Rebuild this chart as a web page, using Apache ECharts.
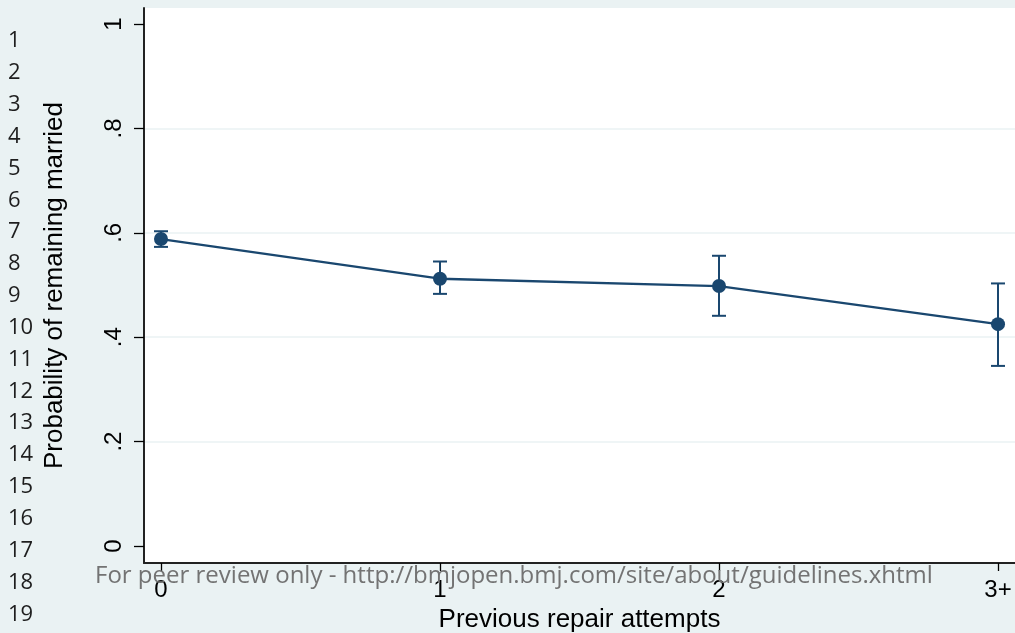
<!DOCTYPE html>
<html>
<head>
<meta charset="utf-8">
<script src="https://cdn.jsdelivr.net/npm/echarts@6/dist/echarts.min.js"></script>
<style>html,body{margin:0;padding:0;background:#eaf2f3;}#c{width:1015px;height:633px;}</style>
</head>
<body>
<div id="c"></div>
<script>
var categories = ["0", "1", "2", "3+"];
var categoryPositions = [0, 1, 2, 3];
var probability = [0.588, 0.512, 0.498, 0.425];
var ciLower = [0.573, 0.483, 0.441, 0.345];
var ciUpper = [0.603, 0.545, 0.556, 0.503];
var yTicks = [0, 0.2, 0.4, 0.6, 0.8, 1];
var lineNumbers = ["1","2","3","4","5","6","7","8","9","10","11","12","13","14","15","16","17","18","19"];
var watermark = "For peer review only - http://bmjopen.bmj.com/site/about/guidelines.xhtml";

var navy = "#1a476f";
var chart = echarts.init(document.getElementById("c"), null, {renderer: "canvas"});

var lineData = categoryPositions.map(function (x, i) { return [x, probability[i]]; });
var errData = categoryPositions.map(function (x, i) { return [x, ciLower[i], ciUpper[i]]; });

var graphics = lineNumbers.map(function (t, i) {
  return {
    type: "text", left: 8, top: 39 + i * 31.85 - 9,
    style: {text: t, font: "22px 'Open Sans'", fill: "#1e1e1e"}, z: 10
  };
});
graphics.push({
  type: "text", left: 95, top: 564,
  style: {text: watermark, font: "24px 'Open Sans'", fill: "#737373"}, z: 100
});

var option = {
  backgroundColor: "#eaf2f3",
  animation: false,
  graphic: graphics,
  grid: [
    {left: 144, right: 0, top: 8, bottom: 70, show: true, backgroundColor: "#ffffff", borderWidth: 0,
     containLabel: false, outerBoundsMode: "none"}
  ],
  xAxis: {
    type: "value", min: -0.0609, max: 3.0609,
    axisLine: {show: true, onZero: false, lineStyle: {color: "#222", width: 2}},
    axisTick: {show: true, length: 8, customValues: categoryPositions, lineStyle: {color: "#000", width: 1.3}},
    axisLabel: {
      customValues: categoryPositions,
      fontFamily: "Liberation Sans", fontSize: 24, color: "#000", margin: 15,
      formatter: function (v) { return categories[categoryPositions.indexOf(Math.round(v))]; }
    },
    splitLine: {show: false},
    name: "Previous repair attempts", nameLocation: "middle", nameGap: 43,
    nameTextStyle: {fontFamily: "Liberation Sans", fontSize: 26, color: "#000"}
  },
  yAxis: {
    type: "value", min: -0.03257, max: 1.03065,
    axisLine: {show: true, onZero: false, lineStyle: {color: "#222", width: 2}},
    axisTick: {show: true, length: 10, customValues: yTicks, lineStyle: {color: "#000", width: 1.3}},
    axisLabel: {
      customValues: yTicks,
      fontFamily: "Liberation Sans", fontSize: 24, color: "#000", rotate: 90, margin: 18,
      formatter: function (v) {
        var s = String(Math.round(v * 10) / 10);
        return s.replace(/^0\./, ".");
      }
    },
    splitLine: {show: true, showMinLine: false, showMaxLine: false, lineStyle: {color: "#eaf2f3", width: 1.5}},
    name: "Probability of remaining married", nameLocation: "middle", nameGap: 76, nameRotate: 90,
    nameTextStyle: {fontFamily: "Liberation Sans", fontSize: 26, color: "#000"}
  },
  series: [
    {
      type: "custom", data: errData, z: 3,
      renderItem: function (params, api) {
        var x = api.value(0);
        var lo = api.coord([x, api.value(1)]);
        var hi = api.coord([x, api.value(2)]);
        var hw = 7;
        var st = {stroke: navy, lineWidth: 2};
        return {
          type: "group",
          children: [
            {type: "line", shape: {x1: lo[0], y1: lo[1], x2: hi[0], y2: hi[1]}, style: st},
            {type: "line", shape: {x1: lo[0] - hw, y1: lo[1], x2: lo[0] + hw, y2: lo[1]}, style: st},
            {type: "line", shape: {x1: hi[0] - hw, y1: hi[1], x2: hi[0] + hw, y2: hi[1]}, style: st}
          ]
        };
      }
    },
    {
      type: "line", data: lineData, z: 4,
      symbol: "circle", symbolSize: 14, showAllSymbol: true,
      itemStyle: {color: navy},
      lineStyle: {color: navy, width: 2.3}
    }
  ]
};
chart.setOption(option);
</script>
</body>
</html>
